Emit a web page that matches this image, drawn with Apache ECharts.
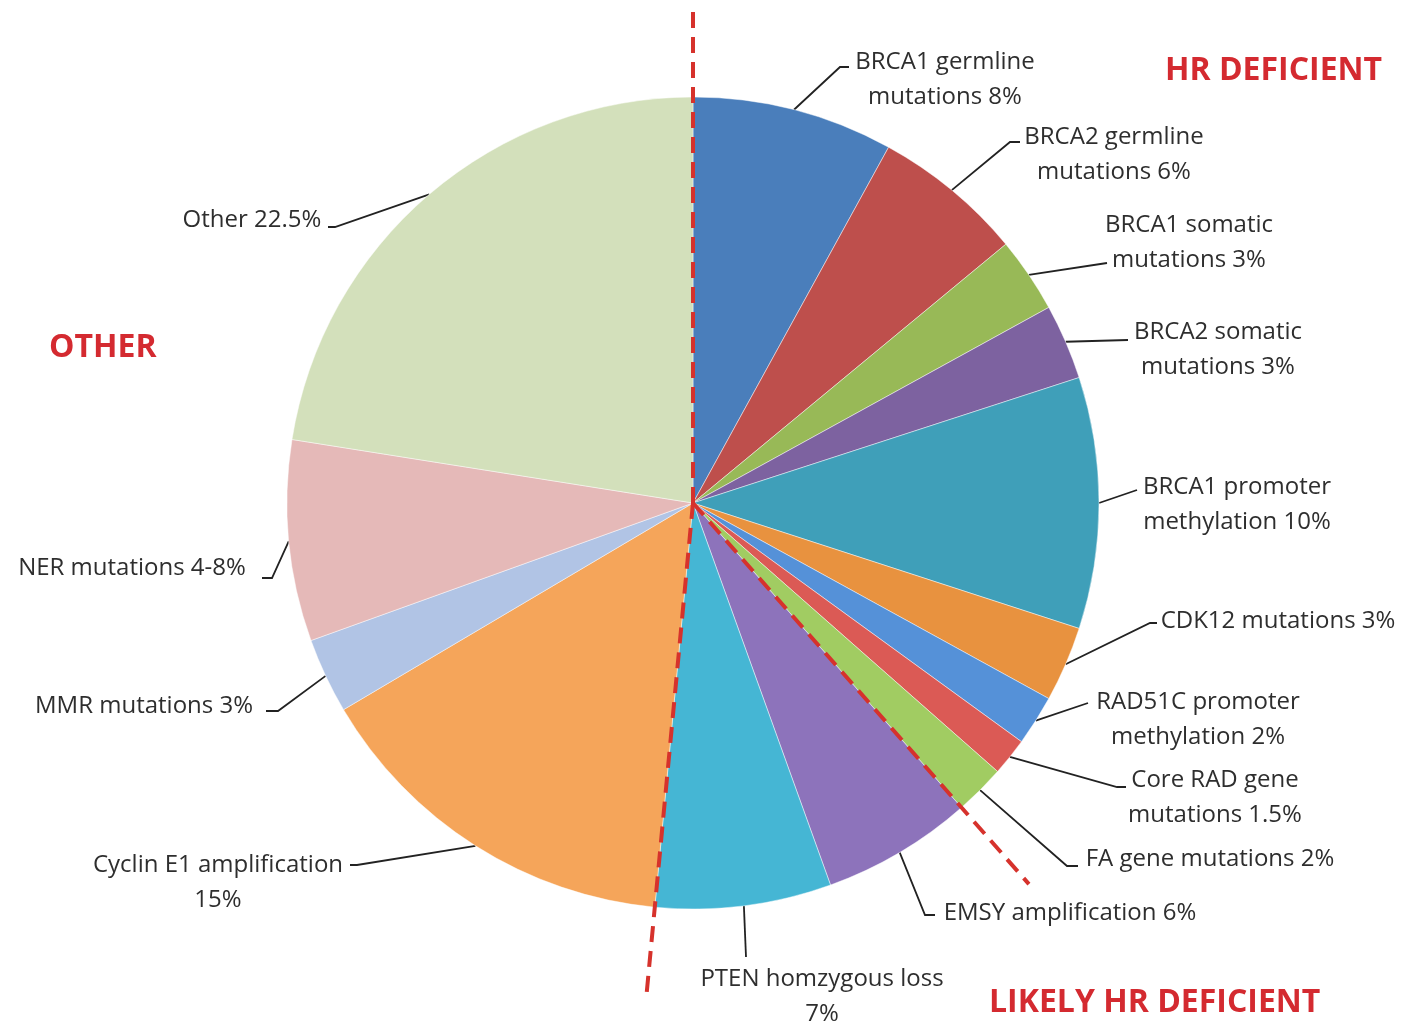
<!DOCTYPE html>
<html>
<head>
<meta charset="utf-8">
<title>HR deficiency in ovarian cancer</title>
<script src="https://cdn.jsdelivr.net/npm/echarts/dist/echarts.min.js"></script>
<style>
  html, body { margin: 0; padding: 0; background: #ffffff; }
  #chart { width: 1404px; height: 1024px; }
</style>
</head>
<body>
<div id="chart"></div>
<script>
// Slice names, in clockwise order from 12 o'clock
const categories = [
  'BRCA1 germline mutations',
  'BRCA2 germline mutations',
  'BRCA1 somatic mutations',
  'BRCA2 somatic mutations',
  'BRCA1 promoter methylation',
  'CDK12 mutations',
  'RAD51C promoter methylation',
  'Core RAD gene mutations',
  'FA gene mutations',
  'EMSY amplification',
  'PTEN homzygous loss',
  'Cyclin E1 amplification',
  'MMR mutations',
  'NER mutations',
  'Other'
];

// Share of cases (%)
const values = [8, 6, 3, 3, 10, 3, 2, 1.5, 2, 6, 7, 15, 3, 8, 22.5];

// Text shown next to each slice
const labelTexts = [
  'BRCA1 germline\nmutations 8%',
  'BRCA2 germline\nmutations 6%',
  'BRCA1 somatic\nmutations 3%',
  'BRCA2 somatic\nmutations 3%',
  'BRCA1 promoter\nmethylation 10%',
  'CDK12 mutations 3%',
  'RAD51C promoter\nmethylation 2%',
  'Core RAD gene\nmutations 1.5%',
  'FA gene mutations 2%',
  'EMSY amplification 6%',
  'PTEN homzygous loss\n7%',
  'Cyclin E1 amplification\n15%',
  'MMR mutations 3%',
  'NER mutations 4-8%',
  'Other 22.5%'
];

// Group headings and the slice index where each group begins
const groupNames = ['HR DEFICIENT', 'LIKELY HR DEFICIENT', 'OTHER'];
const groupStarts = [0, 9, 11];

const sliceColors = [
  '#4a7ebb', '#be4f4c', '#98b957', '#7d62a0', '#3f9fb9',
  '#e8923f', '#5591d8', '#db5a55', '#a1cc62', '#8d73bb',
  '#45b6d4', '#f5a55a', '#b1c4e5', '#e5b9b8', '#d3e0bb'
];

// ---- layout ----
const CX = 693, CY = 503, R = 406;

// label text centre and the bend/end points of each leader line
const labelPlacement = [
  { x: 945,  y: 80,  bend: [[840, 67], [849, 67]] },
  { x: 1114, y: 155, bend: [[1010, 142], [1020, 142]] },
  { x: 1189, y: 243, bend: [[1107, 263]] },
  { x: 1218, y: 350, bend: [[1128, 340]] },
  { x: 1237, y: 505, bend: [[1137, 490]] },
  { x: 1278, y: 621, bend: [[1150, 623], [1157, 623]] },
  { x: 1198, y: 720, bend: [[1088, 703]] },
  { x: 1215, y: 798, bend: [[1117, 787], [1126, 787]] },
  { x: 1210, y: 859, bend: [[1067, 866], [1078, 866]] },
  { x: 1070, y: 913, bend: [[925, 915], [935, 915]] },
  { x: 822,  y: 997, bend: [[746, 957]] },
  { x: 218,  y: 883, bend: [[357, 865], [350, 865]] },
  { x: 144,  y: 706, bend: [[278, 711], [266, 711]] },
  { x: 132,  y: 568, bend: [[272, 578], [262, 578]] },
  { x: 252,  y: 220, bend: [[335, 227], [328, 227]] }
];

// heading positions (left edge, vertical middle)
const headingPlacement = [
  { x: 1165, y: 71 },
  { x: 989,  y: 1003 },
  { x: 49,   y: 348 }
];

// how far each group divider reaches from the centre
const dividerLength = [493, 508, 494];

const total = values.reduce((a, b) => a + b, 0);
const cumulative = [];
values.reduce((acc, v, i) => { cumulative[i] = acc; return acc + v; }, 0);

function pointAt(fraction, radius) {
  const a = fraction * 2 * Math.PI;
  return [CX + radius * Math.sin(a), CY - radius * Math.cos(a)];
}

// dashed dividers between the three groups
const dividers = groupStarts.map((start, i) => {
  const end = pointAt(cumulative[start] / total, dividerLength[i]);
  return {
    type: 'line',
    z: 50,
    silent: true,
    shape: { x1: CX, y1: CY, x2: end[0], y2: end[1] },
    style: { stroke: '#d6322c', lineWidth: 4, lineDash: [16, 9] }
  };
});

const headings = groupNames.map((name, i) => ({
  type: 'text',
  z: 60,
  silent: true,
  x: headingPlacement[i].x,
  y: headingPlacement[i].y,
  style: {
    text: name,
    fill: '#d42a30',
    font: 'bold 32px "Open Sans", sans-serif',
    textAlign: 'left',
    textVerticalAlign: 'middle'
  }
}));

const chart = echarts.init(document.getElementById('chart'), null, { renderer: 'canvas' });

chart.setOption({
  backgroundColor: '#ffffff',
  animation: false,
  series: [{
    type: 'pie',
    center: [CX, CY],
    radius: [0, R],
    startAngle: 90,
    clockwise: true,
    avoidLabelOverlap: false,
    itemStyle: { borderColor: 'rgba(255,255,255,0.45)', borderWidth: 1 },
    label: {
      show: true,
      position: 'outside',
      formatter: (p) => labelTexts[p.dataIndex],
      color: '#2e2e2e',
      fontFamily: '"Open Sans", sans-serif',
      fontSize: 24,
      lineHeight: 35,
      width: 420,
      overflow: 'none',
      align: 'center'
    },
    labelLine: {
      show: true,
      lineStyle: { color: '#222222', width: 1.8 }
    },
    labelLayout: (params) => {
      const i = params.dataIndex;
      const spot = labelPlacement[i];
      const start = pointAt((cumulative[i] + values[i] / 2) / total, R);
      return {
        x: spot.x,
        y: spot.y,
        align: 'center',
        verticalAlign: 'middle',
        hideOverlap: false,
        moveOverlap: null,
        labelLinePoints: [start].concat(spot.bend)
      };
    },
    data: categories.map((name, i) => ({
      name: name,
      value: values[i],
      itemStyle: { color: sliceColors[i] }
    }))
  }],
  graphic: { elements: dividers.concat(headings) }
});
</script>
</body>
</html>
